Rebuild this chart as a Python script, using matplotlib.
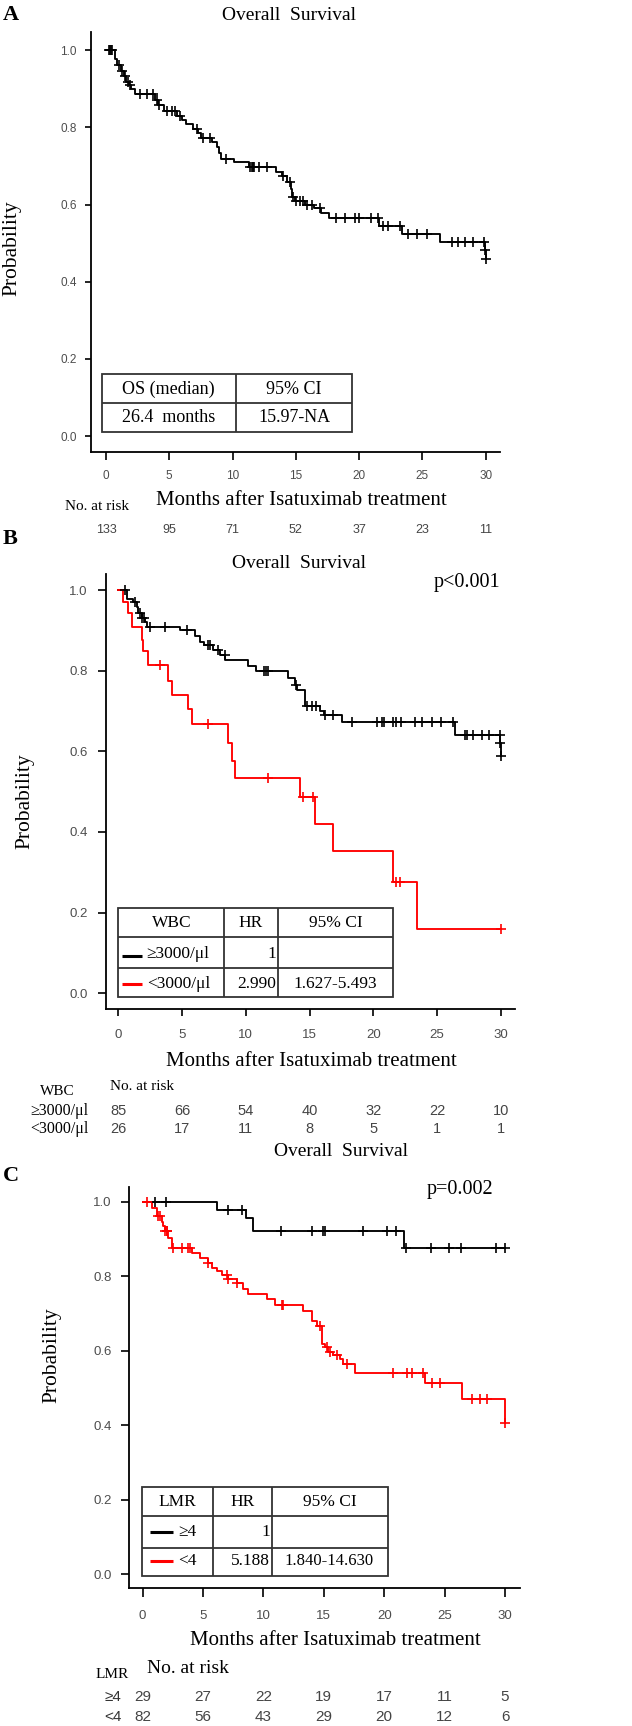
import numpy as np
import matplotlib
matplotlib.use('Agg')
import matplotlib.pyplot as plt
import matplotlib.transforms as mtransforms
from matplotlib.lines import Line2D
from matplotlib.patches import Rectangle

# ---------------- data ----------------
month_ticks = [0, 5, 10, 15, 20, 25, 30]
prob_ticks = [0.0, 0.2, 0.4, 0.6, 0.8, 1.0]

# Panel A: overall survival, all patients
a_event_t = [0.7, 0.9, 1.2, 1.4, 1.6, 1.8, 2.0, 2.3, 3.9, 4.1, 4.6, 5.6, 6.0, 6.3, 6.9, 7.3, 7.5,
             8.4, 8.8, 8.9, 9.1, 10.1, 11.3, 13.4, 13.9, 14.3, 14.6, 14.7, 14.9, 15.7, 16.4, 17.0,
             17.6, 21.6, 23.4, 26.4, 29.95, 30.0]
a_surv = [0.977, 0.962, 0.947, 0.932, 0.917, 0.910, 0.900, 0.887, 0.872, 0.857, 0.842, 0.830,
          0.820, 0.808, 0.797, 0.785, 0.773, 0.762, 0.750, 0.733, 0.718, 0.709, 0.698, 0.685,
          0.675, 0.658, 0.640, 0.620, 0.610, 0.600, 0.590, 0.577, 0.565, 0.545, 0.523, 0.503,
          0.483, 0.460]
a_cens_t = [0.2, 0.3, 0.4, 0.5, 1.0, 1.3, 1.5, 1.7, 1.9, 2.7, 3.2, 3.7, 4.0, 4.2, 4.8, 5.2, 5.45,
            5.85, 7.2, 7.7, 8.2, 9.5, 11.4, 11.5, 11.6, 11.7, 12.1, 12.7, 14.0, 14.5, 14.8, 15.0,
            15.3, 15.6, 15.9, 16.3, 16.9, 18.2, 18.9, 19.7, 20.0, 20.9, 21.5, 21.9, 22.3, 23.2,
            23.9, 24.6, 25.4, 27.3, 27.85, 28.4, 29.0, 29.9, 29.95, 30.0]
a_risk = [133, 95, 71, 52, 37, 23, 11]
a_table = [["OS (median)", "95% CI"], ["26.4  months", "15.97-NA"]]

# Panel B: WBC groups
b_hi_event_t = [0.65, 1.18, 1.44, 1.57, 1.83, 2.09, 2.22, 4.83, 6.0, 6.4, 6.7, 7.4, 8.0, 8.4,
                10.2, 10.8, 13.3, 13.85, 14.05, 14.6, 15.8, 16.1, 17.5, 26.4, 29.95, 30.0]
b_hi_surv = [0.979, 0.971, 0.959, 0.942, 0.930, 0.920, 0.909, 0.900, 0.885, 0.872, 0.864, 0.852,
             0.840, 0.827, 0.812, 0.800, 0.782, 0.765, 0.753, 0.712, 0.700, 0.691, 0.672, 0.640,
             0.620, 0.588]
b_hi_cens_t = [0.5, 1.3, 1.7, 1.9, 2.0, 2.5, 3.7, 5.4, 7.05, 7.2, 7.85, 8.35, 11.4, 11.55, 11.7,
               13.95, 14.8, 15.15, 15.5, 16.2, 16.85, 18.3, 20.25, 20.7, 20.8, 21.55, 21.8, 22.2,
               23.25, 23.8, 24.56, 25.3, 26.25, 27.2, 27.35, 27.8, 28.5, 29.1, 29.9, 29.95, 30.0]
b_lo_event_t = [0.4, 0.8, 1.05, 1.85, 1.97, 2.35, 3.9, 4.2, 5.5, 5.75, 8.6, 8.9, 9.15, 14.25,
                15.4, 16.85, 21.5, 23.4]
b_lo_surv = [0.971, 0.942, 0.909, 0.877, 0.848, 0.815, 0.774, 0.741, 0.704, 0.667, 0.621, 0.576,
             0.533, 0.487, 0.420, 0.352, 0.276, 0.160]
b_lo_cens_t = [3.27, 7.05, 11.76, 14.5, 15.28, 21.8, 22.1, 30.0]
b_risk_hi = [85, 66, 54, 40, 32, 22, 10]
b_risk_lo = [26, 17, 11, 8, 5, 1, 1]
b_groups = ["\u22653000/\u03bcl", "<3000/\u03bcl"]
b_hr = ["1", "2.990"]
b_ci = ["", "1.627-5.493"]

# Panel C: LMR groups
c_hi_event_t = [6.2, 8.6, 9.1, 21.6]
c_hi_surv = [0.978, 0.955, 0.922, 0.876]
c_hi_cens_t = [1.02, 1.9, 7.09, 8.25, 11.45, 13.99, 14.9, 15.13, 18.27, 20.2, 20.95, 21.8,
               23.88, 25.39, 26.33, 29.23, 30.0]
c_lo_event_t = [0.75, 1.16, 1.57, 1.71, 1.85, 2.13, 2.4, 4.06, 4.75, 5.44, 5.71, 6.13, 6.54,
                7.09, 7.78, 8.34, 8.75, 10.27, 10.96, 13.3, 13.99, 14.41, 14.82, 15.1, 15.37,
                15.79, 16.34, 16.62, 17.58, 23.38, 26.41, 30.0]
c_lo_surv = [0.982, 0.960, 0.945, 0.933, 0.920, 0.902, 0.876, 0.862, 0.849, 0.836, 0.822, 0.813,
             0.804, 0.791, 0.782, 0.764, 0.751, 0.738, 0.722, 0.707, 0.680, 0.667, 0.618, 0.609,
             0.596, 0.587, 0.578, 0.564, 0.540, 0.514, 0.471, 0.406]
c_lo_cens_t = [0.33, 1.3, 1.44, 1.85, 1.99, 2.05, 2.54, 3.23, 3.78, 3.92, 5.44, 6.96, 7.09, 7.78,
               11.51, 11.65, 14.68, 15.24, 15.51, 16.06, 16.89, 20.76, 21.86, 22.27, 23.24,
               23.93, 24.62, 27.24, 27.93, 28.48, 30.0]
c_risk_hi = [29, 27, 22, 19, 17, 11, 5]
c_risk_lo = [82, 56, 43, 29, 20, 12, 6]
c_groups = ["\u22654", "<4"]
c_hr = ["1", "5.188"]
c_ci = ["", "1.840-14.630"]

# ---------------- style ----------------
W, H = 632, 1726
SERIF = ['Liberation Serif', 'DejaVu Serif']
SANS = ['Liberation Sans', 'DejaVu Sans']
TICKC = '#4d4d4d'
NUMC = '#444444'
TABC = '#333333'
RED = '#ff0000'

fig = plt.figure(figsize=(W / 100, H / 100), dpi=100)
fig.patch.set_facecolor('white')


def fx(x):
    return x / W


def fy(y):
    return 1 - y / H


def ftext(x, y, s, **kw):
    kw.setdefault('family', SERIF)
    fig.text(fx(x), fy(y), s, **kw)


def fline(x0, x1, y0, y1, color, lw, z=7):
    fig.add_artist(Line2D([fx(x0), fx(x1)], [fy(y0), fy(y1)], transform=fig.transFigure,
                          color=color, lw=lw, zorder=z, solid_capstyle='butt'))


def make_ax(l, t, r, b, xlim, ylim, tfs, xpad, ypad, xlen, ylen):
    ax = fig.add_axes([fx(l), fy(b), (r - l) / W, (b - t) / H])
    ax.set_xlim(xlim)
    ax.set_ylim(ylim)
    for s in ['top', 'right']:
        ax.spines[s].set_visible(False)
    for s in ['left', 'bottom']:
        ax.spines[s].set_linewidth(1.3)
    ax.set_xticks(month_ticks)
    ax.set_yticks(prob_ticks)
    ax.set_yticklabels([f'{v:.1f}' for v in prob_ticks])
    ax.tick_params(axis='x', length=xlen, width=1.2, pad=xpad, labelsize=tfs,
                   labelcolor=TICKC)
    ax.tick_params(axis='y', length=ylen, width=1.2, pad=ypad, labelsize=tfs,
                   labelcolor=TICKC)
    for lab in ax.get_xticklabels() + ax.get_yticklabels():
        lab.set_family(SANS)
    ax.patch.set_alpha(0)
    return ax


def km(ax, ev_t, surv, cens_t, color):
    t = np.concatenate([[0.0], ev_t])
    s = np.concatenate([[1.0], surv])
    t_end = max(max(ev_t), max(cens_t))
    ax.step(np.append(t, t_end), np.append(s, s[-1]), where='post', color=color, lw=1.35,
            zorder=3)
    idx = np.searchsorted(t, cens_t, side='right') - 1
    ax.plot(cens_t, s[idx], ls='none', marker='+', ms=7, mew=1.2, color=color, zorder=4)


def table(x0, y0, x1, y1, vlines, hlines):
    fig.add_artist(Rectangle((fx(x0), fy(y1)), fx(x1) - fx(x0), fy(y0) - fy(y1),
                             transform=fig.transFigure, facecolor='white', edgecolor=TABC,
                             lw=1.3, zorder=5))
    for v in vlines:
        fline(v, v, y0, y1, TABC, 1.3, 6)
    for h in hlines:
        fline(x0, x1, h, h, TABC, 1.3, 6)


def risk_row(ax, values, y, fs, color=NUMC):
    tr = mtransforms.blended_transform_factory(ax.transData, fig.transFigure)
    for xv, v in zip(month_ticks, values):
        ax.text(xv, fy(y), str(v), transform=tr, ha='center', va='center', fontsize=fs,
                family=SANS, color=color)


XLAB = "Months after Isatuximab treatment"
TITLE = "Overall  Survival"

# ---------------- Panel A ----------------
axA = make_ax(90.7, 32, 500, 452, (-1.21, 31.13), (-0.041, 1.047), 8.5, 7.5, 5.5, 5.8, 4.5)
km(axA, a_event_t, a_surv, a_cens_t, 'black')
ftext(3, 15, "A", fontsize=16, fontweight='bold', ha='left', va='center')
ftext(289, 15, TITLE, fontsize=14, ha='center', va='center')
ftext(12, 248, "Probability", fontsize=15.5, rotation=90, ha='center', va='center')
ftext(301.5, 500, XLAB, fontsize=15, ha='center', va='center')
ftext(97.5, 506, "No. at risk", fontsize=11, ha='center', va='center')
risk_row(axA, a_risk, 530, 9)
table(101.7, 374, 352.3, 431.7, [235.7], [403.3])
ftext(168.7, 389, a_table[0][0], fontsize=13, ha='center', va='center', zorder=8)
ftext(294, 389, a_table[0][1], fontsize=13, ha='center', va='center', zorder=8)
ftext(168.7, 417, a_table[1][0], fontsize=13, ha='center', va='center', zorder=8)
ftext(294, 417, a_table[1][1], fontsize=13, ha='center', va='center', zorder=8)

# ---------------- Panel B ----------------
axB = make_ax(106, 574, 515, 1009.3, (-0.96, 31.1), (-0.04, 1.04), 9.5, 9, 7.5, 5, 5.8)
km(axB, b_hi_event_t, b_hi_surv, b_hi_cens_t, 'black')
km(axB, b_lo_event_t, b_lo_surv, b_lo_cens_t, RED)
ftext(3, 539, "B", fontsize=16, fontweight='bold', ha='left', va='center')
ftext(299, 563, TITLE, fontsize=14, ha='center', va='center')
ftext(500, 582, "p<0.001", fontsize=14.5, ha='right', va='center')
ftext(25, 801, "Probability", fontsize=15.5, rotation=90, ha='center', va='center')
ftext(311, 1061, XLAB, fontsize=15, ha='center', va='center')
ftext(110, 1087, "No. at risk", fontsize=11, ha='left', va='center')
ftext(57.5, 1091, "WBC", fontsize=11, ha='center', va='center')
ftext(88.3, 1111, b_groups[0], fontsize=11.5, ha='right', va='center')
ftext(88.3, 1129, b_groups[1], fontsize=11.5, ha='right', va='center')
risk_row(axB, b_risk_hi, 1111, 10.5)
risk_row(axB, b_risk_lo, 1129, 10.5)
table(118.3, 908.3, 393.3, 996.7, [224.3, 277.7], [936.7, 968.3])
ftext(171.3, 923, "WBC", fontsize=12.5, ha='center', va='center', zorder=8)
ftext(251, 923, "HR", fontsize=12.5, ha='center', va='center', zorder=8)
ftext(335.5, 923, "95% CI", fontsize=12.5, ha='center', va='center', zorder=8)
for (yy, col, g, hr, ci) in [(954.5, 'black', b_groups[0], b_hr[0], b_ci[0]),
                             (983.5, RED, b_groups[1], b_hr[1], b_ci[1])]:
    fline(121.7, 141.7, yy + 1, yy + 1, col, 2.2, 8)
    ftext(146.7, yy, g, fontsize=12.5, ha='left', va='center', zorder=8)
    ftext(276.5, yy, hr, fontsize=12.5, ha='right', va='center', zorder=8)
    ftext(335.5, yy, ci, fontsize=12.5, ha='center', va='center', zorder=8)

# ---------------- Panel C ----------------
axC = make_ax(129.3, 1187, 520, 1588.3, (-1.1, 31.24), (-0.038, 1.039), 9.5, 9.5, 7.0, 6.2, 5.5)
km(axC, c_hi_event_t, c_hi_surv, c_hi_cens_t, 'black')
km(axC, c_lo_event_t, c_lo_surv, c_lo_cens_t, RED)
ftext(340.5, 1151, TITLE, fontsize=14, ha='center', va='center')
ftext(3, 1176, "C", fontsize=16, fontweight='bold', ha='left', va='center')
ftext(493, 1189, "p=0.002", fontsize=14.5, ha='right', va='center')
ftext(51.7, 1355, "Probability", fontsize=15.5, rotation=90, ha='center', va='center')
ftext(335, 1640, XLAB, fontsize=15, ha='center', va='center')
ftext(111.7, 1674, "LMR", fontsize=11, ha='center', va='center')
ftext(188, 1668, "No. at risk", fontsize=14, ha='center', va='center')
ftext(121.7, 1697, c_groups[0], fontsize=11, ha='right', va='center', family=SANS, color='#333333')
ftext(121.7, 1717, c_groups[1], fontsize=11, ha='right', va='center', family=SANS, color='#333333')
risk_row(axC, c_risk_hi, 1697, 11)
risk_row(axC, c_risk_lo, 1717, 11)
table(141.7, 1486.7, 387.7, 1575.7, [213.3, 272.3], [1515.7, 1547.7])
ftext(177.5, 1501.5, "LMR", fontsize=12.5, ha='center', va='center', zorder=8)
ftext(242.8, 1501.5, "HR", fontsize=12.5, ha='center', va='center', zorder=8)
ftext(330, 1501.5, "95% CI", fontsize=12.5, ha='center', va='center', zorder=8)
for (yy, col, g, hr, ci) in [(1532, 'black', c_groups[0], c_hr[0], c_ci[0]),
                             (1561, RED, c_groups[1], c_hr[1], c_ci[1])]:
    fline(150, 173.3, yy, yy, col, 2.2, 8)
    ftext(178, yy, g, fontsize=12.5, ha='left', va='center', zorder=8)
    ftext(270, yy, hr, fontsize=12.5, ha='right', va='center', zorder=8)
    ftext(329.5, yy, ci, fontsize=12, ha='center', va='center', zorder=8)

fig.savefig('out.png', dpi=100, facecolor='white')
